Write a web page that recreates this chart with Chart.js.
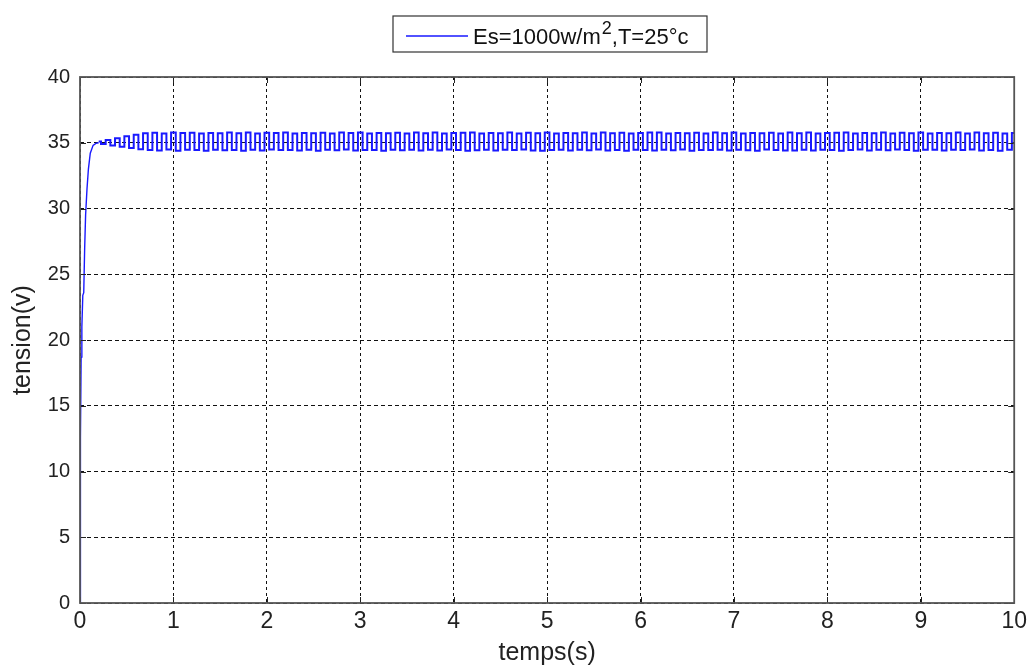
<!DOCTYPE html>
<html>
<head>
<meta charset="utf-8">
<script src="https://cdn.jsdelivr.net/npm/chart.js@4.4.1/dist/chart.umd.min.js"></script>
<style>
  html, body { margin: 0; padding: 0; background: #fff; }
  canvas { display: block; }
</style>
</head>
<body>
<canvas id="chart" width="1032" height="670"></canvas>
<script>
// start-up ramp (time in s, tension in V)
const riseTime = [0, 0.001, 0.005, 0.008, 0.012, 0.02, 0.03, 0.04, 0.05, 0.06, 0.075, 0.09, 0.11, 0.14, 0.17, 0.2];
const riseVolt = [0, 6.8, 12.3, 12.6, 18.7, 21, 23.4, 23.6, 27, 29.5, 31.5, 33, 34.2, 34.8, 34.95, 35.0];

// ripple around 35 V, one sample every 0.05 s from 0.2 s to 10 s
const rippleStart = 0.2;
const rippleStep = 0.05;
const rippleVolt = [
    35.1, 34.9, 35.2, 34.8, 35.35, 34.7, 35.5, 34.6, 35.6, 34.5,
    35.72, 34.45, 35.76, 34.42, 35.7, 34.48, 35.78, 34.4, 35.74, 34.46,
    35.76, 34.44, 35.7, 34.4, 35.74, 34.47, 35.72, 34.43, 35.78, 34.45,
    35.73, 34.4, 35.77, 34.46, 35.71, 34.42, 35.76, 34.48, 35.74, 34.44,
    35.78, 34.45, 35.7, 34.41, 35.75, 34.47, 35.72, 34.4, 35.76, 34.46,
    35.71, 34.43, 35.77, 34.48, 35.74, 34.42, 35.78, 34.45, 35.7, 34.44,
    35.75, 34.4, 35.72, 34.47, 35.76, 34.43, 35.71, 34.46, 35.78, 34.41,
    35.73, 34.46, 35.77, 34.42, 35.7, 34.48, 35.75, 34.44, 35.76, 34.4,
    35.78, 34.43, 35.71, 34.47, 35.74, 34.41, 35.72, 34.46, 35.77, 34.44,
    35.7, 34.48, 35.76, 34.42, 35.73, 34.4, 35.78, 34.45, 35.71, 34.47,
    35.75, 34.41, 35.72, 34.46, 35.77, 34.43, 35.7, 34.48, 35.78, 34.42,
    35.73, 34.45, 35.76, 34.4, 35.71, 34.47, 35.75, 34.44, 35.77, 34.41,
    35.78, 34.46, 35.7, 34.43, 35.74, 34.48, 35.72, 34.4, 35.76, 34.45,
    35.71, 34.44, 35.77, 34.47, 35.73, 34.41, 35.78, 34.46, 35.7, 34.43,
    35.75, 34.4, 35.72, 34.48, 35.76, 34.45, 35.71, 34.42, 35.78, 34.41,
    35.73, 34.47, 35.77, 34.41, 35.7, 34.46, 35.75, 34.44, 35.76, 34.4,
    35.78, 34.45, 35.71, 34.48, 35.74, 34.42, 35.72, 34.46, 35.77, 34.43,
    35.7, 34.48, 35.76, 34.44, 35.73, 34.4, 35.78, 34.46, 35.71, 34.47,
    35.75, 34.41, 35.72, 34.46, 35.77, 34.44, 35.7, 34.48, 35.78, 34.42,
    35.73, 34.45, 35.76, 34.4, 35.71, 34.47, 35.75
];

const legendText = "Es=1000w/m";
const legendSup = "2";
const legendTail = ",T=25°c";
const xTitle = "temps(s)";
const yTitle = "tension(v)";

const risePoints = riseTime.map((t, i) => ({ x: t, y: riseVolt[i] }));
const ripplePoints = rippleVolt.map((v, i) => ({ x: rippleStart + i * rippleStep, y: v }));

const lineColor = "rgb(25,25,255)";

// matlab style box, inward ticks and legend
const frame = {
    id: "frame",
    afterDraw(chart) {
        const c = chart.ctx;
        const a = chart.chartArea;
        const xs = chart.scales.x;
        const ys = chart.scales.y;
        c.save();
        c.strokeStyle = "#222";
        c.lineWidth = 1;
        c.beginPath();
        xs.ticks.forEach(t => {
            const px = Math.round(xs.getPixelForValue(t.value)) + 0.5;
            c.moveTo(px, a.bottom); c.lineTo(px, a.bottom - 6);
            c.moveTo(px, a.top); c.lineTo(px, a.top + 6);
        });
        ys.ticks.forEach(t => {
            const py = Math.round(ys.getPixelForValue(t.value)) + 0.5;
            c.moveTo(a.left, py); c.lineTo(a.left + 6, py);
            c.moveTo(a.right, py); c.lineTo(a.right - 6, py);
        });
        c.stroke();

        c.strokeStyle = "#555";
        c.lineWidth = 1.8;
        c.strokeRect(a.left, a.top, a.right - a.left, a.bottom - a.top);

        // legend box
        const bx = 393, by = 16, bw = 314, bh = 36;
        c.fillStyle = "#fff";
        c.fillRect(bx, by, bw, bh);
        c.strokeStyle = "#333";
        c.lineWidth = 1.2;
        c.strokeRect(bx, by, bw, bh);
        c.strokeStyle = lineColor;
        c.lineWidth = 1.6;
        c.beginPath();
        c.moveTo(406, 36); c.lineTo(468, 36);
        c.stroke();
        c.fillStyle = "#111";
        c.textBaseline = "alphabetic";
        c.font = "22px 'Liberation Sans', Arial, sans-serif";
        let tx = 473;
        c.fillText(legendText, tx, 44);
        tx += c.measureText(legendText).width;
        c.font = "18px 'Liberation Sans', Arial, sans-serif";
        c.fillText(legendSup, tx + 1, 34);
        tx += c.measureText(legendSup).width + 1;
        c.font = "22px 'Liberation Sans', Arial, sans-serif";
        c.fillText(legendTail, tx, 44);
        c.restore();
    }
};

new Chart(document.getElementById("chart"), {
    type: "line",
    data: {
        datasets: [{
            data: risePoints,
            borderColor: lineColor,
            borderWidth: 1.4,
            pointRadius: 0,
            tension: 0,
            fill: false
        }, {
            data: ripplePoints,
            borderColor: lineColor,
            borderWidth: 2,
            pointRadius: 0,
            stepped: "middle",
            fill: false
        }]
    },
    options: {
        responsive: false,
        animation: false,
        layout: { padding: { top: 77, right: 15, left: 0, bottom: 0 } },
        plugins: {
            legend: { display: false },
            tooltip: { enabled: false }
        },
        scales: {
            x: {
                type: "linear",
                min: 0,
                max: 10,
                afterFit: s => { s.height = 67; },
                ticks: {
                    stepSize: 1,
                    padding: 5,
                    color: "#222",
                    font: { family: "'Liberation Sans Narrow', 'Liberation Sans', sans-serif", size: 23 }
                },
                grid: {
                    color: "#111",
                    lineWidth: 1,
                    drawTicks: false
                },
                border: { display: false, dash: [3, 3] },
                title: {
                    display: true,
                    text: xTitle,
                    color: "#222",
                    padding: { top: 0, bottom: 2 },
                    font: { family: "'Liberation Sans', Arial, sans-serif", size: 25 }
                }
            },
            y: {
                min: 0,
                max: 40,
                afterFit: s => { s.width = 80; },
                ticks: {
                    stepSize: 5,
                    padding: 10,
                    color: "#222",
                    font: { family: "'Liberation Sans', Arial, sans-serif", size: 20 }
                },
                grid: {
                    color: "#111",
                    lineWidth: 1,
                    drawTicks: false
                },
                border: { display: false, dash: [4, 3] },
                title: {
                    display: true,
                    text: yTitle,
                    color: "#222",
                    padding: { top: 8, bottom: 0 },
                    font: { family: "'Liberation Sans', Arial, sans-serif", size: 25 }
                }
            }
        }
    },
    plugins: [frame]
});
</script>
</body>
</html>
